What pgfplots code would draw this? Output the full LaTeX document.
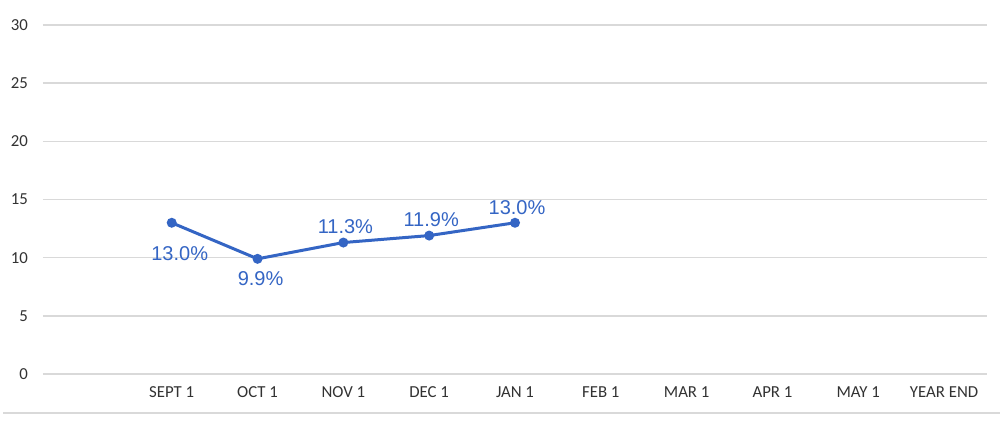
\documentclass[border=0pt]{standalone}
\usepackage{pgfplots}
\pgfplotsset{compat=1.18}
\usepackage{fontspec}
\setmainfont{Carlito}
\newfontfamily\labelfont{Liberation Sans}
\definecolor{lineblue}{RGB}{52,101,196}
\definecolor{gridgray}{RGB}{217,217,217}
\definecolor{ticktext}{RGB}{50,50,50}
\begin{document}
\begin{tikzpicture}
    % whole picture 1000x424 px at 0.5pt per px, axis origin at px (43,374)
    \path[use as bounding box] (-21.5pt,-25pt) rectangle (478.5pt,187pt);
    \draw[gridgray, line width=0.6pt] (-20pt,-19.5pt) -- (478.5pt,-19.5pt);
    \begin{axis}[
        scale only axis,
        width=472pt,
        height=174.5pt,
        xmin=-0.5, xmax=10.5,
        ymin=0, ymax=30,
        axis line style={draw=none},
        ytick={0,5,...,30},
        xtick={1,2,3,4,5,6,7,8,9,10},
        xticklabels={SEPT 1,OCT 1,NOV 1,DEC 1,JAN 1,FEB 1,MAR 1,APR 1,MAY 1,YEAR END},
        major tick length=0pt,
        ymajorgrids,
        grid style={gridgray, line width=0.7pt},
        tick label style={font=\fontsize{8.4}{10}\selectfont, text=ticktext},
        yticklabel style={xshift=-4pt},
        xticklabel style={yshift=-3pt},
        /pgf/number format/assume math mode=true,
        clip=false,
        ]
        % series
        \addplot[lineblue, line width=1.5pt, mark=*, mark size=1.7pt,
            mark options={fill=lineblue, draw=lineblue}]
            coordinates {(1,13.0) (2,9.9) (3,11.3) (4,11.9) (5,13.0)};
        % labels below
        \addplot[draw=none, mark=none, nodes near coords,
            point meta=explicit symbolic,
            nodes near coords style={anchor=north, inner sep=0pt, yshift=-11.5pt, xshift=4pt,
                font=\labelfont\fontsize{10}{11}\selectfont, text=lineblue}]
            coordinates {(1,13.0) [13.0\%]};
        \addplot[draw=none, mark=none, nodes near coords,
            point meta=explicit symbolic,
            nodes near coords style={anchor=north, inner sep=0pt, yshift=-6pt, xshift=1.5pt,
                font=\labelfont\fontsize{10}{11}\selectfont, text=lineblue}]
            coordinates {(2,9.9) [9.9\%]};
        % labels above
        \addplot[draw=none, mark=none, nodes near coords,
            point meta=explicit symbolic,
            nodes near coords style={anchor=south, inner sep=0pt, yshift=4pt, xshift=1pt,
                font=\labelfont\fontsize{10}{11}\selectfont, text=lineblue}]
            coordinates {(3,11.3) [11.3\%] (4,11.9) [11.9\%] (5,13.0) [13.0\%]};
    \end{axis}
\end{tikzpicture}
\end{document}
